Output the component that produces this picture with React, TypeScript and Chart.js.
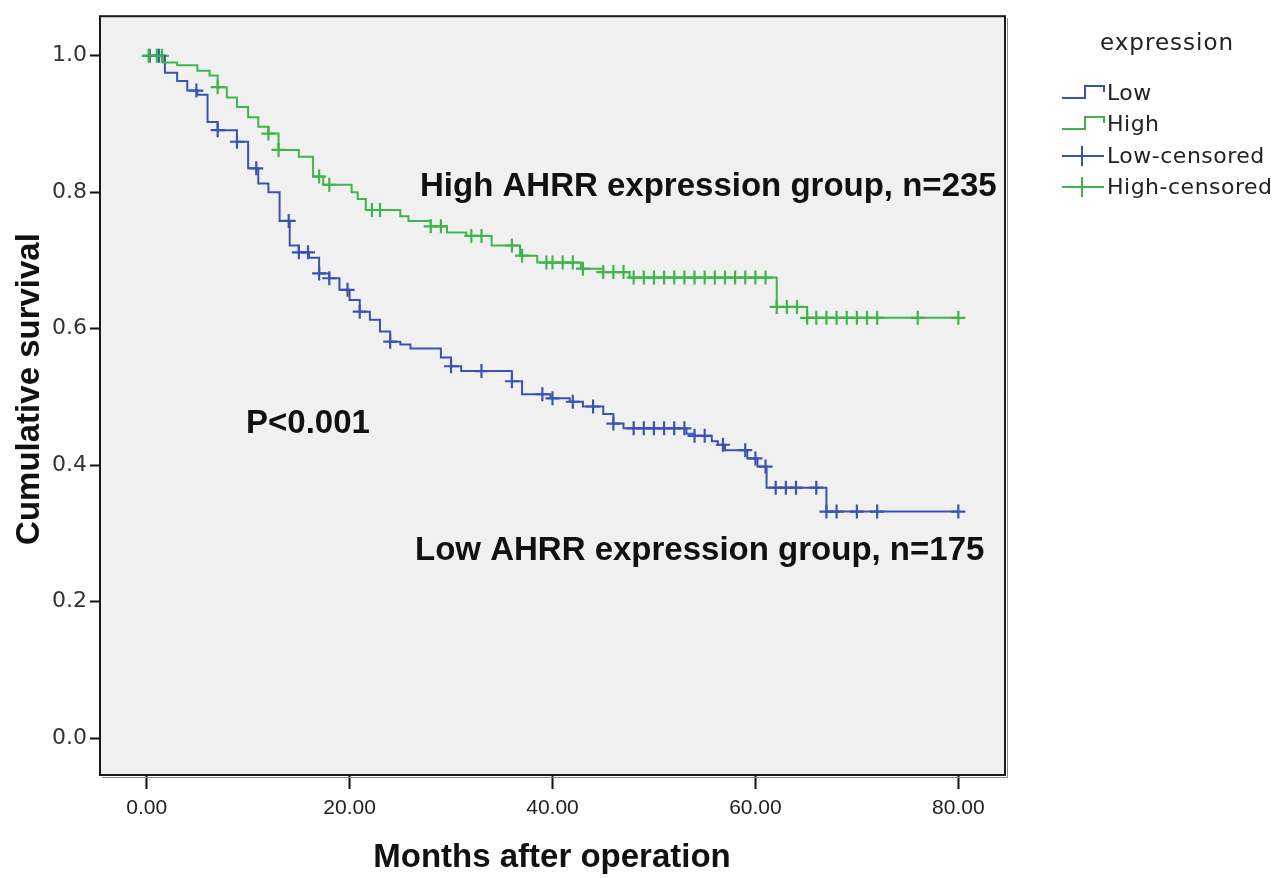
import React, { useEffect, useRef } from 'react';
import { Chart, registerables } from 'chart.js';

Chart.register(...registerables);

// ---- Data ----
const lowTimes = [0, 1.8, 3, 4, 5, 6, 7, 8.9, 10, 11, 12, 13.1, 14.1, 15, 16, 17, 18, 19, 20, 21, 22, 23, 24, 25, 26, 29, 30, 31, 36, 37, 39.8, 41.7, 43, 45, 46, 47, 53.2, 54, 55.7, 56.3, 57, 59.2, 60.2, 61.1, 67, 80];
const lowSurv = [1.0, 0.975, 0.963, 0.949, 0.943, 0.903, 0.891, 0.874, 0.835, 0.813, 0.8, 0.758, 0.722, 0.712, 0.704, 0.681, 0.674, 0.657, 0.642, 0.625, 0.613, 0.596, 0.581, 0.577, 0.571, 0.558, 0.545, 0.538, 0.523, 0.504, 0.498, 0.493, 0.486, 0.475, 0.461, 0.454, 0.446, 0.443, 0.435, 0.43, 0.422, 0.41, 0.398, 0.367, 0.332, 0.332];
const lowCensored = [0.3, 1.2, 4.9, 7, 8.9, 10.8, 14, 15, 15.9, 17, 18, 19.8, 21, 24, 30, 33, 36, 39, 40, 42, 44, 46, 48, 49, 50, 51, 52, 53, 54, 55, 56.8, 59, 60, 61, 62, 63, 64, 66, 67, 68, 70, 72, 80];

const highTimes = [0, 1.6, 3, 5, 6.2, 7, 7.9, 8.9, 10, 11, 12, 13, 15, 16.4, 17.4, 20.2, 20.8, 21.6, 25, 25.8, 28, 29.6, 31.5, 34, 36.8, 38.5, 42.8, 45, 47.6, 62.1, 65.1, 80];
const highSurv = [1.0, 0.99, 0.986, 0.978, 0.971, 0.954, 0.939, 0.925, 0.91, 0.896, 0.886, 0.862, 0.852, 0.823, 0.811, 0.8, 0.79, 0.774, 0.765, 0.758, 0.75, 0.741, 0.736, 0.722, 0.707, 0.697, 0.688, 0.683, 0.675, 0.632, 0.616, 0.616];
const highCensored = [0.2, 1, 1.5, 7, 12, 13, 17, 18, 22.2, 23, 28, 29, 32, 33, 36, 37, 39.4, 40, 41, 42, 43, 45, 46, 47, 48, 49, 50, 51, 52, 53, 54, 55, 56, 57, 58, 59, 60, 61, 62.1, 63.1, 64.1, 65.1, 66, 67, 68, 69, 70, 71, 72, 76, 80];

const xTickValues = [0, 20, 40, 60, 80];
const yTickValues = [0, 0.2, 0.4, 0.6, 0.8, 1.0];

const legendTitle = 'expression';
const legendLabels = ['Low', 'High', 'Low-censored', 'High-censored'];
const xTitle = 'Months after operation';
const yTitle = 'Cumulative survival';
const highNote = 'High AHRR expression group, n=235';
const lowNote = 'Low AHRR expression group, n=175';
const pNote = 'P<0.001';

const BLUE = '#3A53B0';
const GREEN = '#3DB54A';

function survAt(times: number[], surv: number[], t: number) {
  let v = surv[0];
  for (let i = 0; i < times.length; i++) {
    if (times[i] <= t + 1e-9) v = surv[i];
    else break;
  }
  return v;
}

export default function App() {
  const ref = useRef<HTMLCanvasElement>(null);

  useEffect(() => {
    const canvas = ref.current!;

    const bgPlugin = {
      id: 'bg',
      beforeDraw(chart: any) {
        const { ctx, chartArea: a } = chart;
        ctx.save();
        ctx.fillStyle = '#ffffff';
        ctx.fillRect(0, 0, chart.width, chart.height);
        ctx.fillStyle = '#F0F0F0';
        ctx.fillRect(a.left, a.top, a.right - a.left, a.bottom - a.top);
        ctx.restore();
      },
    };

    const decorPlugin = {
      id: 'decor',
      afterDraw(chart: any) {
        const { ctx, chartArea: a } = chart;
        ctx.save();
        // frame
        ctx.strokeStyle = '#888';
        ctx.lineWidth = 1;
        ctx.beginPath();
        ctx.moveTo(a.left + 2, a.bottom + 2.5);
        ctx.lineTo(a.right + 2.5, a.bottom + 2.5);
        ctx.lineTo(a.right + 2.5, a.top + 2);
        ctx.stroke();
        ctx.strokeStyle = '#1a1a1a';
        ctx.lineWidth = 2;
        ctx.strokeRect(a.left, a.top, a.right - a.left, a.bottom - a.top);

        // axis titles
        ctx.fillStyle = '#111';
        ctx.font = 'bold 33px "Liberation Sans", Arial, sans-serif';
        ctx.textAlign = 'center';
        ctx.textBaseline = 'middle';
        ctx.fillText(xTitle, 552, 858);
        ctx.save();
        ctx.translate(30, 389);
        ctx.rotate(-Math.PI / 2);
        ctx.fillText(yTitle, 0, 0);
        ctx.restore();

        // annotations
        ctx.textAlign = 'left';
        ctx.fillText(highNote, 420, 187);
        ctx.fillText(lowNote, 415, 551);
        ctx.fillText(pNote, 246, 424);

        // legend
        ctx.fillStyle = '#222';
        ctx.font = '23px "DejaVu Sans", sans-serif';
        ctx.textAlign = 'center';
        (ctx as any).letterSpacing = '1px';
        ctx.fillText(legendTitle, 1167, 44);
        (ctx as any).letterSpacing = '0.5px';
        ctx.font = '22px "DejaVu Sans", sans-serif';
        ctx.textAlign = 'left';
        const ys = [93, 124, 156, 187];
        const cols = [BLUE, GREEN, BLUE, GREEN];
        legendLabels.forEach((lab, i) => {
          const y = ys[i];
          ctx.strokeStyle = cols[i];
          ctx.lineWidth = 2;
          ctx.beginPath();
          if (i < 2) {
            ctx.moveTo(1062, y + 5);
            ctx.lineTo(1085, y + 5);
            ctx.lineTo(1085, y - 7);
            ctx.lineTo(1104, y - 7);
            ctx.lineTo(1104, y - 1);
          } else {
            ctx.moveTo(1062, y);
            ctx.lineTo(1104, y);
            ctx.moveTo(1082, y - 10);
            ctx.lineTo(1082, y + 10);
          }
          ctx.stroke();
          ctx.fillStyle = '#222';
          ctx.fillText(lab, 1107, y + 1);
        });
        ctx.restore();
      },
    };

    const lowLine = lowTimes.map((t, i) => ({ x: t, y: lowSurv[i] }));
    const highLine = highTimes.map((t, i) => ({ x: t, y: highSurv[i] }));
    const lowCens = lowCensored.map((t) => ({ x: t, y: survAt(lowTimes, lowSurv, t) }));
    const highCens = highCensored.map((t) => ({ x: t, y: survAt(highTimes, highSurv, t) }));

    const chart = new Chart(canvas, {
      type: 'scatter',
      data: {
        datasets: [
          { label: 'High', data: highLine, showLine: true, stepped: 'before', borderColor: GREEN, borderWidth: 2, pointRadius: 0, fill: false } as any,
          { label: 'Low', data: lowLine, showLine: true, stepped: 'before', borderColor: BLUE, borderWidth: 2, pointRadius: 0, fill: false } as any,
          { label: 'High-censored', data: highCens, showLine: false, pointStyle: 'cross', pointRadius: 7, pointBorderWidth: 2.2, pointBorderColor: GREEN, borderColor: GREEN, backgroundColor: GREEN } as any,
          { label: 'Low-censored', data: lowCens, showLine: false, pointStyle: 'cross', pointRadius: 7, pointBorderWidth: 2.2, pointBorderColor: BLUE, borderColor: BLUE, backgroundColor: BLUE } as any,
        ],
      },
      options: {
        responsive: false,
        animation: false,
        devicePixelRatio: 1,
        layout: { padding: { left: 0, right: 273, top: 8, bottom: 0 } },
        plugins: { legend: { display: false }, tooltip: { enabled: false } },
        scales: {
          x: {
            type: 'linear',
            position: 'bottom',
            min: -4.6,
            max: 84.6,
            afterBuildTicks: (s: any) => {
              s.ticks = xTickValues.map((v) => ({ value: v }));
            },
            afterFit: (s: any) => {
              s.height = 103;
            },
            ticks: {
              callback: (v: any) => Number(v).toFixed(2),
              font: { family: '"Liberation Sans", Arial, sans-serif', size: 21 },
              color: '#222',
              padding: 7,
              maxRotation: 0,
              autoSkip: false,
            },
            grid: { display: true, drawOnChartArea: false, drawTicks: true, tickLength: 14, tickColor: '#111', tickWidth: 2 },
            border: { display: false },
          },
          y: {
            type: 'linear',
            min: -0.054,
            max: 1.058,
            afterBuildTicks: (s: any) => {
              s.ticks = yTickValues.map((v) => ({ value: v }));
            },
            afterFit: (s: any) => {
              s.width = 100;
            },
            ticks: {
              callback: (v: any) => Number(v).toFixed(1),
              font: { family: '"DejaVu Sans", sans-serif', size: 22 },
              color: '#333',
              padding: 3,
              autoSkip: false,
            },
            grid: { display: true, drawOnChartArea: false, drawTicks: true, tickLength: 10, tickColor: '#111', tickWidth: 2 },
            border: { display: false },
          },
        },
      } as any,
      plugins: [bgPlugin, decorPlugin],
    });

    return () => chart.destroy();
  }, []);

  return (
    <div style={{ position: 'fixed', left: 0, top: 0, width: 1278, height: 878, background: '#fff' }}>
      <canvas ref={ref} width={1278} height={878} style={{ display: 'block', width: 1278, height: 878 }} />
    </div>
  );
}
